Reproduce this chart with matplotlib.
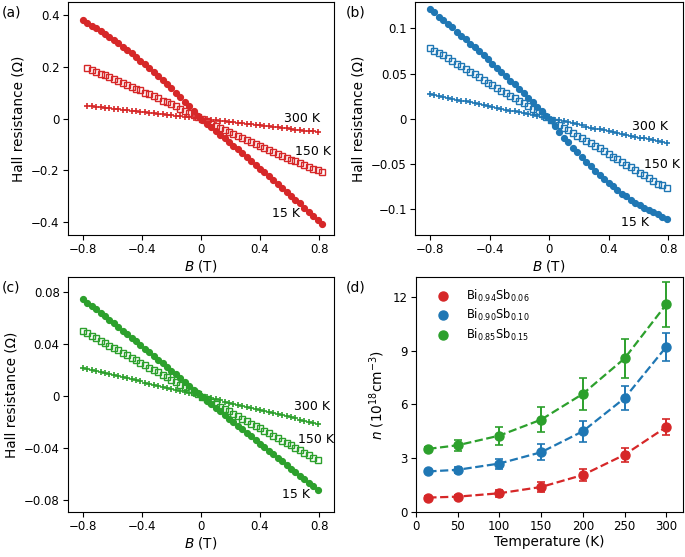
"""Hall resistance sweeps and carrier density of three BiSb alloys."""

import matplotlib
matplotlib.use("Agg")
import matplotlib.pyplot as plt
from matplotlib.ticker import FuncFormatter

RED = "#d62728"
BLUE = "#1f77b4"
GREEN = "#2ca02c"

# field sweep (T)
B_FIELD = [
    -0.80, -0.77, -0.74, -0.71, -0.68, -0.65, -0.62, -0.59, -0.56, -0.53,
    -0.50, -0.47, -0.44, -0.41, -0.38, -0.35, -0.32, -0.29, -0.26, -0.23,
    -0.20, -0.17, -0.14, -0.11, -0.08, -0.05, -0.02, 0.01, 0.04, 0.07,
    0.10, 0.13, 0.16, 0.19, 0.22, 0.25, 0.28, 0.31, 0.34, 0.37,
    0.40, 0.43, 0.46, 0.49, 0.52, 0.55, 0.58, 0.61, 0.64, 0.67,
    0.70, 0.73, 0.76, 0.79, 0.82,
]

# (a) Bi0.94Sb0.06, Hall resistance (Ohm)
RA_15K = [
    0.381, 0.371, 0.360, 0.350, 0.338, 0.327, 0.315, 0.303, 0.291, 0.278,
    0.265, 0.252, 0.238, 0.224, 0.210, 0.195, 0.180, 0.165, 0.149, 0.133,
    0.117, 0.100, 0.083, 0.066, 0.048, 0.031, 0.012, -0.005, -0.019, -0.033,
    -0.047, -0.062, -0.076, -0.090, -0.105, -0.119, -0.134, -0.149, -0.163, -0.178,
    -0.193, -0.208, -0.223, -0.238, -0.253, -0.268, -0.283, -0.298, -0.313, -0.328,
    -0.344, -0.359, -0.375, -0.390, -0.406,
]
RA_150K = [  # from -0.77 T
    0.195, 0.188, 0.181, 0.174, 0.167, 0.160, 0.153, 0.146, 0.139,
    0.131, 0.124, 0.116, 0.109, 0.101, 0.094, 0.086, 0.078, 0.070, 0.063,
    0.055, 0.047, 0.039, 0.030, 0.022, 0.014, 0.006, -0.003, -0.011, -0.019,
    -0.028, -0.036, -0.044, -0.052, -0.060, -0.068, -0.076, -0.083, -0.091, -0.099,
    -0.106, -0.114, -0.121, -0.129, -0.136, -0.143, -0.151, -0.158, -0.165, -0.172,
    -0.179, -0.186, -0.193, -0.199, -0.206,
]
RA_300K = [  # from -0.77 T to 0.79 T
    0.050, 0.048, 0.046, 0.044, 0.042, 0.040, 0.038, 0.036, 0.034,
    0.033, 0.031, 0.029, 0.027, 0.025, 0.023, 0.021, 0.019, 0.017, 0.015,
    0.013, 0.011, 0.009, 0.007, 0.005, 0.003, 0.001, -0.001, -0.003, -0.005,
    -0.007, -0.008, -0.010, -0.012, -0.014, -0.016, -0.018, -0.020, -0.022, -0.024,
    -0.026, -0.028, -0.030, -0.032, -0.034, -0.036, -0.038, -0.040, -0.042, -0.044,
    -0.046, -0.047, -0.049, -0.051,
]

# (b) Bi0.90Sb0.10
RB_15K = [
    0.122, 0.118, 0.113, 0.109, 0.105, 0.101, 0.096, 0.092, 0.088, 0.083,
    0.079, 0.075, 0.070, 0.066, 0.061, 0.056, 0.052, 0.047, 0.042, 0.038,
    0.033, 0.028, 0.023, 0.018, 0.013, 0.008, 0.003, -0.002, -0.008, -0.015,
    -0.021, -0.026, -0.032, -0.037, -0.043, -0.048, -0.053, -0.058, -0.062, -0.067,
    -0.071, -0.075, -0.079, -0.083, -0.086, -0.090, -0.093, -0.096, -0.099, -0.101,
    -0.104, -0.106, -0.109, -0.111,
]
RB_150K = [
    0.078, 0.075, 0.073, 0.070, 0.067, 0.064, 0.061, 0.058, 0.055, 0.052,
    0.049, 0.046, 0.043, 0.040, 0.037, 0.034, 0.031, 0.028, 0.025, 0.023,
    0.020, 0.017, 0.014, 0.011, 0.008, 0.005, 0.002, -0.001, -0.004, -0.007,
    -0.010, -0.013, -0.016, -0.019, -0.022, -0.025, -0.027, -0.030, -0.033, -0.036,
    -0.039, -0.042, -0.045, -0.048, -0.051, -0.054, -0.057, -0.060, -0.063, -0.066,
    -0.069, -0.072, -0.074, -0.077,
]
RB_300K = [
    0.027, 0.026, 0.025, 0.024, 0.023, 0.022, 0.021, 0.020, 0.019, 0.018,
    0.017, 0.016, 0.015, 0.014, 0.013, 0.012, 0.011, 0.010, 0.009, 0.008,
    0.007, 0.006, 0.005, 0.004, 0.003, 0.002, 0.001, 0.000, -0.001, -0.002,
    -0.003, -0.004, -0.005, -0.006, -0.007, -0.009, -0.010, -0.011, -0.012, -0.013,
    -0.014, -0.015, -0.016, -0.017, -0.018, -0.019, -0.020, -0.021, -0.022, -0.023,
    -0.024, -0.025, -0.026, -0.027,
]

# (c) Bi0.85Sb0.15
RC_15K = [
    0.0747, 0.0721, 0.0694, 0.0668, 0.0641, 0.0614, 0.0587, 0.0560, 0.0532, 0.0505,
    0.0478, 0.0450, 0.0422, 0.0394, 0.0366, 0.0338, 0.0310, 0.0281, 0.0253, 0.0224,
    0.0195, 0.0166, 0.0137, 0.0108, 0.0079, 0.0049, 0.0020, -0.0009, -0.0037, -0.0064,
    -0.0092, -0.0120, -0.0147, -0.0175, -0.0202, -0.0230, -0.0258, -0.0285, -0.0313, -0.0340,
    -0.0368, -0.0396, -0.0423, -0.0451, -0.0478, -0.0506, -0.0534, -0.0561, -0.0589, -0.0616,
    -0.0644, -0.0672, -0.0699, -0.0727,
]
RC_150K = [
    0.0502, 0.0483, 0.0464, 0.0445, 0.0426, 0.0408, 0.0389, 0.0370, 0.0351, 0.0332,
    0.0314, 0.0295, 0.0276, 0.0257, 0.0238, 0.0219, 0.0201, 0.0182, 0.0163, 0.0144,
    0.0125, 0.0107, 0.0088, 0.0069, 0.0050, 0.0031, 0.0013, -0.0006, -0.0025, -0.0044,
    -0.0063, -0.0082, -0.0100, -0.0119, -0.0138, -0.0157, -0.0176, -0.0194, -0.0213, -0.0232,
    -0.0251, -0.0270, -0.0288, -0.0307, -0.0326, -0.0345, -0.0364, -0.0382, -0.0401, -0.0420,
    -0.0439, -0.0458, -0.0477, -0.0495,
]
RC_300K = [
    0.0218, 0.0209, 0.0201, 0.0193, 0.0185, 0.0177, 0.0169, 0.0160, 0.0152, 0.0144,
    0.0136, 0.0128, 0.0120, 0.0112, 0.0103, 0.0095, 0.0087, 0.0079, 0.0071, 0.0063,
    0.0054, 0.0046, 0.0038, 0.0030, 0.0022, 0.0014, 0.0005, -0.0003, -0.0011, -0.0019,
    -0.0027, -0.0035, -0.0044, -0.0052, -0.0060, -0.0068, -0.0076, -0.0084, -0.0092, -0.0101,
    -0.0109, -0.0117, -0.0125, -0.0133, -0.0141, -0.0150, -0.0158, -0.0166, -0.0174, -0.0182,
    -0.0190, -0.0199, -0.0207, -0.0215,
]

# (d) carrier density vs temperature (1e18 cm^-3)
TEMPS = [15, 50, 100, 150, 200, 250, 300]
N_006 = [0.80, 0.85, 1.04, 1.39, 2.06, 3.19, 4.74]
N_006_ERR = [0.10, 0.10, 0.20, 0.30, 0.34, 0.40, 0.43]
N_010 = [2.26, 2.35, 2.70, 3.33, 4.50, 6.35, 9.22]
N_010_ERR = [0.10, 0.18, 0.28, 0.44, 0.57, 0.67, 0.80]
N_015 = [3.52, 3.72, 4.26, 5.15, 6.59, 8.57, 11.59]
N_015_ERR = [0.10, 0.30, 0.50, 0.69, 0.88, 1.08, 1.27]
ALLOYS = [r"Bi$_{0.94}$Sb$_{0.06}$", r"Bi$_{0.90}$Sb$_{0.10}$",
          r"Bi$_{0.85}$Sb$_{0.15}$"]

plt.rcParams["font.family"] = ["DejaVu Sans"]
plt.rcParams["mathtext.fontset"] = "dejavusans"

LABEL_SIZE = 9.8
TICK_SIZE = 8.5


def _fmt(v, _pos):
    s = f"{v:g}"
    return s.replace("-", "\u2212")


def _hall_panel(ax, series, color, ylim, yticks, notes):
    circ, sq, plus = series
    ax.plot(circ[0], circ[1], "o", color=color, ms=4.2, ls="none")
    ax.plot(sq[0], sq[1], "s", color=color, mfc="none", ms=3.7, mew=1.0,
            ls="none")
    ax.plot(plus[0], plus[1], "+", color=color, ms=4.8, mew=1.2, ls="none")
    ax.set_xlim(-0.9, 0.9)
    ax.set_ylim(*ylim)
    ax.set_xticks([-0.8, -0.4, 0, 0.4, 0.8])
    ax.set_yticks(yticks)
    ax.xaxis.set_major_formatter(FuncFormatter(_fmt))
    ax.yaxis.set_major_formatter(FuncFormatter(_fmt))
    ax.set_xlabel(r"$B$ (T)", fontsize=LABEL_SIZE, labelpad=1)
    ax.set_ylabel("Hall resistance (\u03a9)", fontsize=LABEL_SIZE, labelpad=4)
    for txt, x, y in notes:
        ax.text(x, y, txt, ha="center", va="center", fontsize=9)


fig = plt.figure(figsize=(6.85, 5.57), dpi=100)
ax_a = fig.add_axes([0.0993, 0.578, 0.388, 0.418])
ax_b = fig.add_axes([0.606, 0.578, 0.391, 0.418])
ax_c = fig.add_axes([0.0993, 0.081, 0.388, 0.421])
ax_d = fig.add_axes([0.607, 0.081, 0.390, 0.421])

_hall_panel(
    ax_a,
    [(B_FIELD, RA_15K), (B_FIELD[1:], RA_150K), (B_FIELD[1:54], RA_300K)],
    RED, (-0.45, 0.45), [-0.4, -0.2, 0, 0.2, 0.4],
    [("300 K", 0.686, 0.0), ("150 K", 0.757, -0.128), ("15 K", 0.574, -0.365)],
)
_hall_panel(
    ax_b,
    [(B_FIELD[:54], RB_15K), (B_FIELD[:54], RB_150K), (B_FIELD[:54], RB_300K)],
    BLUE, (-0.129, 0.129), [-0.1, -0.05, 0, 0.05, 0.1],
    [("300 K", 0.68, -0.0092), ("150 K", 0.76, -0.0506),
     ("15 K", 0.58, -0.1155)],
)
_hall_panel(
    ax_c,
    [(B_FIELD[:54], RC_15K), (B_FIELD[:54], RC_150K), (B_FIELD[:54], RC_300K)],
    GREEN, (-0.0895, 0.0915), [-0.08, -0.04, 0, 0.04, 0.08],
    [("300 K", 0.752, -0.0082), ("150 K", 0.78, -0.0333),
     ("15 K", 0.647, -0.0762)],
)

for n, err, color, label in [
    (N_006, N_006_ERR, RED, ALLOYS[0]),
    (N_010, N_010_ERR, BLUE, ALLOYS[1]),
    (N_015, N_015_ERR, GREEN, ALLOYS[2]),
]:
    ax_d.plot(TEMPS, n, "--", color=color, lw=1.6)
    ax_d.errorbar(TEMPS, n, yerr=err, fmt="none", ecolor=color, elinewidth=1.4,
                  capsize=3, capthick=1.2)
    ax_d.plot(TEMPS, n, "o", color=color, ms=6.5, ls="none", label=label)
ax_d.set_xlim(0, 320)
ax_d.set_ylim(0, 13.1)
ax_d.set_xticks([0, 50, 100, 150, 200, 250, 300])
ax_d.set_yticks([0, 3, 6, 9, 12])
ax_d.set_xlabel("Temperature (K)", fontsize=LABEL_SIZE, labelpad=1)
ax_d.set_ylabel(r"$n$ ($10^{18}$cm$^{-3}$)", fontsize=LABEL_SIZE, labelpad=4)
ax_d.legend(loc="upper left", frameon=False, fontsize=8.3, handletextpad=1.0,
            labelspacing=0.3, borderaxespad=0.5, bbox_to_anchor=(0.02, 1.0))

for ax in (ax_a, ax_b, ax_c, ax_d):
    ax.tick_params(labelsize=TICK_SIZE, pad=2.5)

fig.text(0.003, 0.99, "(a)", fontsize=10, va="top")
fig.text(0.505, 0.99, "(b)", fontsize=10, va="top")
fig.text(0.003, 0.497, "(c)", fontsize=10, va="top")
fig.text(0.505, 0.497, "(d)", fontsize=10, va="top")

fig.savefig("out.png", dpi=100)
